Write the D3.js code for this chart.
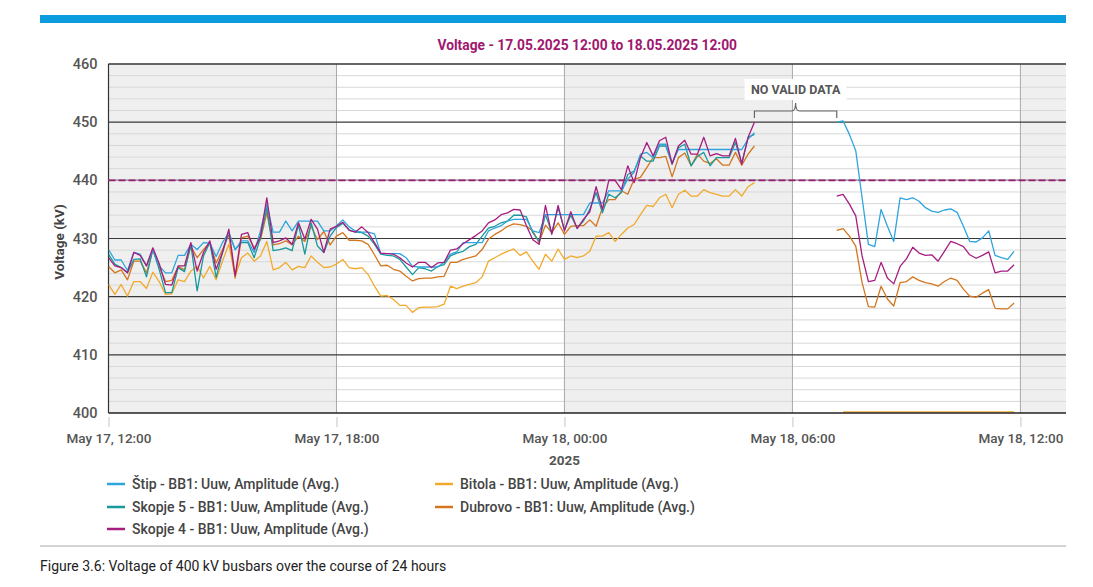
<!DOCTYPE html>
<html>
<head>
<meta charset="utf-8">
<script src="https://cdn.jsdelivr.net/npm/d3@7"></script>
<style>
  body { margin: 0; background: #fff; }
  svg { display: block; font-family: Roboto, "Open Sans", sans-serif; }
</style>
</head>
<body>
<div id="chart"></div>
<script>
// ---------------------------------------------------------------
// Data: 10-minute averages from 17.05.2025 12:00, null = no valid data
// ---------------------------------------------------------------
const START = new Date(2025, 4, 17, 12, 0);
const END = new Date(2025, 4, 18, 13, 12);
const STEP_MIN = 10;

const yTicks = [400, 410, 420, 430, 440, 450, 460];
const LIMIT_KV = 440;
const YEAR_LABEL = '2025';

const stip = [
  428.1,426.3,426.3,424.5,427.6,427.3,425.3,428.1,425.3,424.1,
  424.1,427.1,427.1,429.0,428.1,429.3,429.2,426.9,429.3,431.0,
  428.1,429.6,429.6,427.6,431.3,435.9,431.1,431.1,433.0,431.3,
  433.0,433.0,433.0,433.0,431.3,431.3,432.2,433.2,432.0,431.3,
  431.1,431.1,430.8,427.4,427.4,427.4,427.4,426.7,425.2,425.1,
  425.1,425.1,425.1,425.9,427.3,427.7,429.3,429.3,429.3,429.3,
  431.3,431.8,432.2,433.0,433.3,433.3,433.3,431.3,431.0,434.1,
  434.1,434.1,434.1,434.1,434.1,434.1,436.1,436.1,436.1,438.2,
  438.2,438.2,440.2,441.4,444.5,444.8,443.9,446.2,446.2,443.0,
  445.3,445.3,445.3,445.3,445.3,445.3,445.3,445.3,445.3,445.3,
  445.3,447.1,448.2,
  null,null,null,null,null,null,null,null,null,null,null,null,
  450.0,450.2,447.9,445.1,437.0,429.0,428.6,435.0,432.1,429.5,
  437.0,436.7,437.0,436.4,435.3,434.7,434.5,434.9,435.1,434.5,
  432.1,429.5,429.4,430.1,431.3,427.1,426.7,426.4,427.8
];

const skopje5 = [
  427.3,425.6,425.0,424.1,426.4,426.5,423.4,428.1,424.7,420.7,
  420.7,425.0,424.3,429.0,421.0,427.0,429.3,423.3,427.6,431.0,
  428.1,429.3,429.3,426.7,430.1,435.3,427.9,428.1,428.4,427.9,
  432.4,427.3,432.7,428.7,427.6,430.4,431.9,432.6,431.5,431.1,
  431.0,430.4,429.0,427.3,427.1,427.0,426.4,425.1,423.8,425.0,
  424.8,424.4,425.2,425.5,427.0,427.5,427.8,428.6,429.0,430.4,
  431.8,432.1,432.7,433.0,434.0,434.0,433.7,431.0,429.5,434.1,
  431.0,435.3,431.5,434.0,431.8,433.0,435.0,437.9,434.4,437.6,
  437.0,437.9,441.0,441.6,444.2,443.3,443.3,445.9,445.9,442.8,
  445.6,446.2,442.5,444.1,444.8,442.5,443.9,443.9,443.9,446.5,
  443.0,447.4,447.9
];

const skopje4 = [
  426.7,425.3,425.0,424.1,427.6,427.1,425.3,428.4,425.7,422.1,
  422.0,425.3,425.3,429.3,424.4,427.6,429.6,424.7,427.6,431.6,
  423.6,430.7,431.0,428.1,430.4,437.0,429.3,429.6,430.1,429.0,
  432.7,429.9,433.3,431.6,427.6,431.6,432.1,432.8,431.4,431.1,
  432.0,431.0,429.3,427.5,427.4,427.3,426.7,425.8,425.1,425.9,
  425.9,425.0,425.8,425.9,428.0,428.2,429.1,429.8,430.5,431.3,
  432.7,433.2,434.1,434.4,435.0,434.9,432.2,429.8,429.0,435.7,
  430.7,435.7,431.3,434.6,431.7,433.3,434.6,438.9,435.0,440.0,
  440.0,438.4,442.5,439.6,443.9,446.5,444.2,446.8,447.4,442.8,
  445.9,446.9,444.5,444.5,447.4,444.2,444.6,444.2,444.2,447.2,
  442.8,447.4,450.0,
  null,null,null,null,null,null,null,null,null,null,null,null,
  437.3,437.6,435.9,433.9,427.0,422.6,422.8,425.9,423.2,422.2,
  425.2,426.5,428.5,427.5,427.1,427.2,426.1,427.8,429.5,429.1,
  428.6,427.2,426.6,427.1,427.7,424.1,424.4,424.4,425.5
];

const bitola = [
  422.1,420.4,422.1,420.1,422.6,422.6,421.4,424.2,422.6,420.4,
  420.5,422.9,422.6,424.4,425.2,423.2,425.2,422.9,426.1,429.0,
  423.5,426.7,427.5,426.1,427.0,429.5,424.6,425.0,425.9,424.6,
  425.2,425.0,427.0,425.9,425.0,425.1,425.6,426.4,425.0,424.8,
  425.0,423.8,421.8,420.1,420.2,419.5,418.5,418.5,417.3,418.1,
  418.2,418.2,418.3,418.7,421.8,421.4,421.8,422.1,422.4,423.4,
  426.1,426.7,427.3,427.8,428.2,427.1,427.7,426.1,424.7,427.3,
  426.1,428.2,426.4,427.0,426.7,427.0,427.8,430.4,430.4,431.0,
  429.5,430.7,431.8,432.4,434.1,435.7,435.5,437.0,437.6,435.3,
  437.6,438.3,437.3,437.3,438.4,437.9,437.6,437.3,437.3,438.4,
  437.3,438.9,439.6,
  null,null,null,null,null,null,null,null,null,null,null,null,
  null,400.2,400.2,400.2,400.2,400.2,400.2,400.2,400.2,400.2,
  400.2,400.2,400.2,400.2,400.2,400.2,400.2,400.2,400.2,400.2,
  400.2,400.2,400.2,400.2,400.2,400.2,400.2,400.2,400.2
];

const dubrovo = [
  425.2,424.1,424.6,422.9,426.1,426.1,424.1,428.1,425.2,422.6,
  422.8,425.2,424.6,428.6,426.7,428.1,429.3,425.8,428.1,430.7,
  423.2,430.1,430.4,428.4,429.8,434.4,428.9,429.1,429.6,428.9,
  430.4,429.5,432.1,429.8,431.2,428.9,430.4,431.0,429.7,429.7,
  429.6,429.0,427.2,425.3,425.4,424.7,424.4,423.5,422.7,423.1,
  423.2,423.2,423.4,423.5,425.9,425.9,426.4,426.7,427.0,428.1,
  429.9,430.7,431.3,432.1,432.5,432.4,432.1,431.3,429.3,432.3,
  431.0,432.7,430.7,432.1,432.2,432.2,433.2,432.1,435.3,436.7,
  436.7,438.2,437.6,440.2,440.5,442.2,443.9,443.9,444.1,440.6,
  443.9,444.7,442.5,444.5,443.3,442.9,443.7,442.6,442.6,444.8,
  442.6,444.5,445.9,
  null,null,null,null,null,null,null,null,null,null,null,null,
  431.4,431.7,430.4,428.7,422.4,418.3,418.2,421.8,419.6,418.4,
  422.4,422.6,423.4,422.8,422.4,422.2,421.8,422.6,423.2,422.8,
  421.3,420.1,419.9,420.6,421.2,418.0,417.9,417.9,418.9
];

const seriesNames = [
  'Štip - BB1: Uuw, Amplitude (Avg.)',
  'Skopje 5 - BB1: Uuw, Amplitude (Avg.)',
  'Skopje 4 - BB1: Uuw, Amplitude (Avg.)',
  'Bitola - BB1: Uuw, Amplitude (Avg.)',
  'Dubrovo - BB1: Uuw, Amplitude (Avg.)'
];
const seriesValues = [stip, skopje5, skopje4, bitola, dubrovo];

// ---------------------------------------------------------------
// Styles / layout
// ---------------------------------------------------------------
const WIDTH = 1093, HEIGHT = 587;
const PLOT = { left: 108.5, right: 1066, top: 64, bottom: 413 };
const COLORS = ['#2ea5de', '#18999b', '#a61d80', '#f2aa2c', '#d4761f'];
const DRAW_ORDER = [3, 4, 1, 0, 2];
const TEXT_GREY = '#555';

const svg = d3.select('#chart').append('svg')
  .attr('width', WIDTH).attr('height', HEIGHT);

// top blue band
svg.append('rect')
  .attr('x', 40).attr('y', 15).attr('width', 1026).attr('height', 8)
  .attr('fill', '#0a9cdc');

// title
svg.append('text')
  .attr('x', (PLOT.left + PLOT.right) / 2).attr('y', 50)
  .attr('text-anchor', 'middle')
  .attr('font-size', 13.8).attr('font-weight', 700)
  .attr('fill', '#a0176f')
  .text('Voltage - 17.05.2025 12:00 to 18.05.2025 12:00');

// scales
const x = d3.scaleTime().domain([START, END]).range([PLOT.left, PLOT.right]);
const y = d3.scaleLinear().domain([400, 460]).range([PLOT.bottom, PLOT.top]);
const timeAt = i => new Date(START.getTime() + i * STEP_MIN * 60000);

const xTicks = x.ticks(d3.timeHour.every(6));

// alternating 6h background bands
const bounds = [START, ...xTicks.filter(t => t > START), END];
const plot = svg.append('g');
for (let k = 0; k < bounds.length - 1; k++) {
  plot.append('rect')
    .attr('x', x(bounds[k])).attr('y', PLOT.top)
    .attr('width', x(bounds[k + 1]) - x(bounds[k]))
    .attr('height', PLOT.bottom - PLOT.top)
    .attr('fill', k % 2 === 0 ? '#efefef' : '#ffffff');
}

// minor grid every 2 kV
const minor = d3.range(402, 460, 2).filter(v => v % 10 !== 0);
plot.selectAll('.minor').data(minor).enter().append('line')
  .attr('x1', PLOT.left).attr('x2', PLOT.right)
  .attr('y1', d => y(d)).attr('y2', d => y(d))
  .attr('stroke', '#d8d8d8').attr('stroke-width', 1);

// vertical lines at 6h ticks
plot.selectAll('.vline').data(xTicks.filter(t => t > START)).enter().append('line')
  .attr('x1', d => x(d)).attr('x2', d => x(d))
  .attr('y1', PLOT.top).attr('y2', PLOT.bottom)
  .attr('stroke', '#a8a8a8').attr('stroke-width', 1);

// major grid
plot.selectAll('.major').data(yTicks.filter(v => v > 400)).enter().append('line')
  .attr('x1', PLOT.left).attr('x2', PLOT.right)
  .attr('y1', d => y(d)).attr('y2', d => y(d))
  .attr('stroke', '#3a3a3a').attr('stroke-width', 1.2);

// left border
plot.append('line')
  .attr('x1', PLOT.left).attr('x2', PLOT.left)
  .attr('y1', PLOT.top).attr('y2', PLOT.bottom)
  .attr('stroke', '#333').attr('stroke-width', 1.2);

// 440 kV limit line (dashed)
plot.append('line')
  .attr('x1', PLOT.left).attr('x2', PLOT.right)
  .attr('y1', y(LIMIT_KV)).attr('y2', y(LIMIT_KV))
  .attr('stroke', '#b0a0b0').attr('stroke-width', 1.5);
plot.append('line')
  .attr('x1', PLOT.left).attr('x2', PLOT.right)
  .attr('y1', y(LIMIT_KV)).attr('y2', y(LIMIT_KV))
  .attr('stroke', '#961f72').attr('stroke-width', 1.6)
  .attr('stroke-dasharray', '7,3');

// series lines
svg.append('clipPath').attr('id', 'clip').append('rect')
  .attr('x', PLOT.left).attr('y', PLOT.top - 2)
  .attr('width', PLOT.right - PLOT.left).attr('height', PLOT.bottom - PLOT.top + 2);

const line = d3.line()
  .defined(d => d.v != null)
  .x(d => x(d.t))
  .y(d => y(d.v));

const lines = svg.append('g').attr('clip-path', 'url(#clip)');
DRAW_ORDER.forEach(s => {
  const pts = seriesValues[s].map((v, i) => ({ t: timeAt(i), v: v }));
  lines.append('path')
    .datum(pts)
    .attr('d', line)
    .attr('fill', 'none')
    .attr('stroke', COLORS[s])
    .attr('stroke-width', 1.3)
    .attr('stroke-linejoin', 'round');
});

// x axis
const xAxis = d3.axisBottom(x)
  .tickValues(xTicks)
  .tickFormat(d3.timeFormat('%b %-d, %H:%M'))
  .tickSize(14).tickPadding(6);
const gx = svg.append('g')
  .attr('transform', `translate(0,${PLOT.bottom})`)
  .call(xAxis);
gx.select('.domain').attr('stroke', '#222').attr('stroke-width', 1.3)
  .attr('d', `M${PLOT.left},0H${PLOT.right}`);
gx.selectAll('.tick line').attr('y1', 4).attr('stroke', '#c4c4c4');
gx.selectAll('.tick text')
  .attr('fill', TEXT_GREY).attr('font-size', 13.5).attr('font-weight', 500)
  .attr('font-family', 'Roboto, sans-serif');

// year label under midnight tick
const midnight = xTicks.find(t => t.getHours() === 0);
svg.append('text')
  .attr('x', x(midnight)).attr('y', 465)
  .attr('text-anchor', 'middle')
  .attr('font-size', 13.5).attr('font-weight', 700)
  .attr('fill', TEXT_GREY)
  .text(YEAR_LABEL);

// y axis
const yAxis = d3.axisLeft(y).tickValues(yTicks).tickSize(0).tickPadding(11);
const gy = svg.append('g')
  .attr('transform', `translate(${PLOT.left},0)`)
  .call(yAxis);
gy.select('.domain').remove();
gy.selectAll('.tick text')
  .attr('fill', TEXT_GREY).attr('font-size', 14.5).attr('font-weight', 500)
  .attr('font-family', 'Roboto, sans-serif');

svg.append('text')
  .attr('transform', 'translate(64,242) rotate(-90)')
  .attr('text-anchor', 'middle')
  .attr('font-size', 13.5).attr('font-weight', 700)
  .attr('fill', '#444')
  .text('Voltage (kV)');

// top border
svg.append('line')
  .attr('x1', PLOT.left).attr('x2', PLOT.right)
  .attr('y1', PLOT.top).attr('y2', PLOT.top)
  .attr('stroke', '#333').attr('stroke-width', 1.2);

// "NO VALID DATA" bracket over the gap
const firstSeries = seriesValues[0];
let lastValid = -1, nextValid = -1;
for (let i = 1; i < firstSeries.length; i++) {
  if (firstSeries[i] == null && firstSeries[i - 1] != null && lastValid < 0) lastValid = i - 1;
  if (firstSeries[i] != null && firstSeries[i - 1] == null && nextValid < 0) nextValid = i;
}
const bx0 = x(timeAt(lastValid)), bx1 = x(timeAt(nextValid));
const bm = (bx0 + bx1) / 2;
const bY = 111;
svg.append('path')
  .attr('d', `M${bx0},118V${bY}H${bm - 4}Q${bm},${bY} ${bm},103Q${bm},${bY} ${bm + 4},${bY}H${bx1}V118`)
  .attr('fill', 'none').attr('stroke', '#666').attr('stroke-width', 1.2);
svg.append('rect')
  .attr('x', bm - 51).attr('y', 79).attr('width', 102).attr('height', 21)
  .attr('fill', '#fff');
svg.append('text')
  .attr('x', bm).attr('y', 94)
  .attr('text-anchor', 'middle')
  .attr('font-size', 12.5).attr('font-weight', 700)
  .attr('fill', '#555')
  .text('NO VALID DATA');

// legend
const legendPos = [
  { x: 107, y: 484 }, { x: 107, y: 507 }, { x: 107, y: 529 },
  { x: 435, y: 484 }, { x: 435, y: 507 }
];
const legend = svg.append('g');
seriesNames.forEach((name, s) => {
  const g = legend.append('g').attr('transform', `translate(${legendPos[s].x},${legendPos[s].y})`);
  g.append('line').attr('x1', 0).attr('x2', 18).attr('y1', 0).attr('y2', 0)
    .attr('stroke', COLORS[s]).attr('stroke-width', 2.5);
  g.append('text').attr('x', 25).attr('y', 5)
    .attr('font-size', 14).attr('font-weight', 500)
    .attr('fill', '#444')
    .text(name);
});

// separator + caption
svg.append('line')
  .attr('x1', 40).attr('x2', 1066).attr('y1', 546).attr('y2', 546)
  .attr('stroke', '#aaa').attr('stroke-width', 1.2);
svg.append('text')
  .attr('x', 40).attr('y', 571)
  .attr('font-size', 14)
  .attr('fill', '#222')
  .text('Figure 3.6: Voltage of 400 kV busbars over the course of 24 hours');
</script>
</body>
</html>
